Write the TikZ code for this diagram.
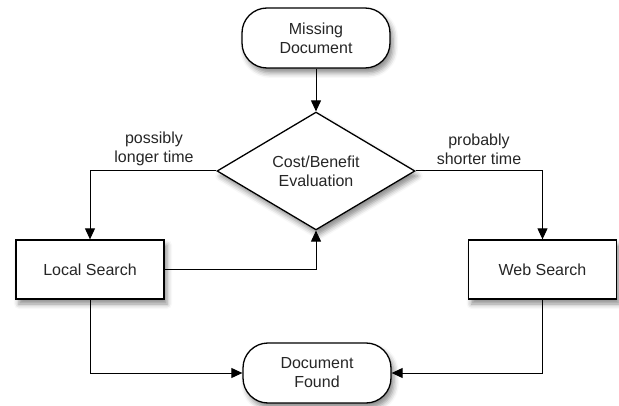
\documentclass[tikz,border=0pt]{standalone}
\usepackage{fontspec}
\setmainfont{Liberation Sans}
\usetikzlibrary{shapes.geometric,arrows.meta,shadows.blur}
\begin{document}
\begin{tikzpicture}[x=1pt,y=-1pt,
  every node/.style={font=\fontsize{16}{19}\selectfont, text=black!85, align=center},
  shad/.style={blur shadow={shadow xshift=3pt, shadow yshift=-5pt, shadow blur radius=5pt, shadow opacity=45}},
  term/.style={draw, line width=1.3pt, fill=white, rounded corners=25pt, minimum width=148pt, minimum height=60pt, inner sep=0pt, shad},
  proc/.style={draw, line width=1.3pt, fill=white, minimum width=148pt, minimum height=59pt, inner sep=0pt, shad},
  decide/.style={draw, line width=1.3pt, fill=white, diamond, minimum width=198pt, minimum height=94pt, inner sep=0pt, shad},
  conn/.style={draw, line width=1pt, -{Triangle[length=11pt,width=10pt]}},
  lbl/.style={inner sep=0pt}
]
\useasboundingbox (0,0) rectangle (619,406);
\node[term] (miss) at (316,38) {Missing\\Document};
\node[decide] (eval) at (316,171) {Cost/Benefit\\Evaluation};
\node[proc] (local) at (90,269.5) {Local Search};
\node[proc] (web) at (542.5,269.5) {Web Search};
\node[term] (found) at (317,373) {Document\\Found};
\node[lbl] (llbl) at (154,149) {possibly\\longer time};
\node[lbl] (rlbl) at (479,149) {probably\\shorter time};
\draw[conn] (miss.south) -- (eval.north);
\draw[conn] (eval.west) -| (local.north);
\draw[conn] (eval.east) -| (web.north);
\draw[conn] (local.east) -| (eval.south);
\draw[conn] (local.south) |- (found.west);
\draw[conn] (web.south) |- (found.east);
\end{tikzpicture}
\end{document}
